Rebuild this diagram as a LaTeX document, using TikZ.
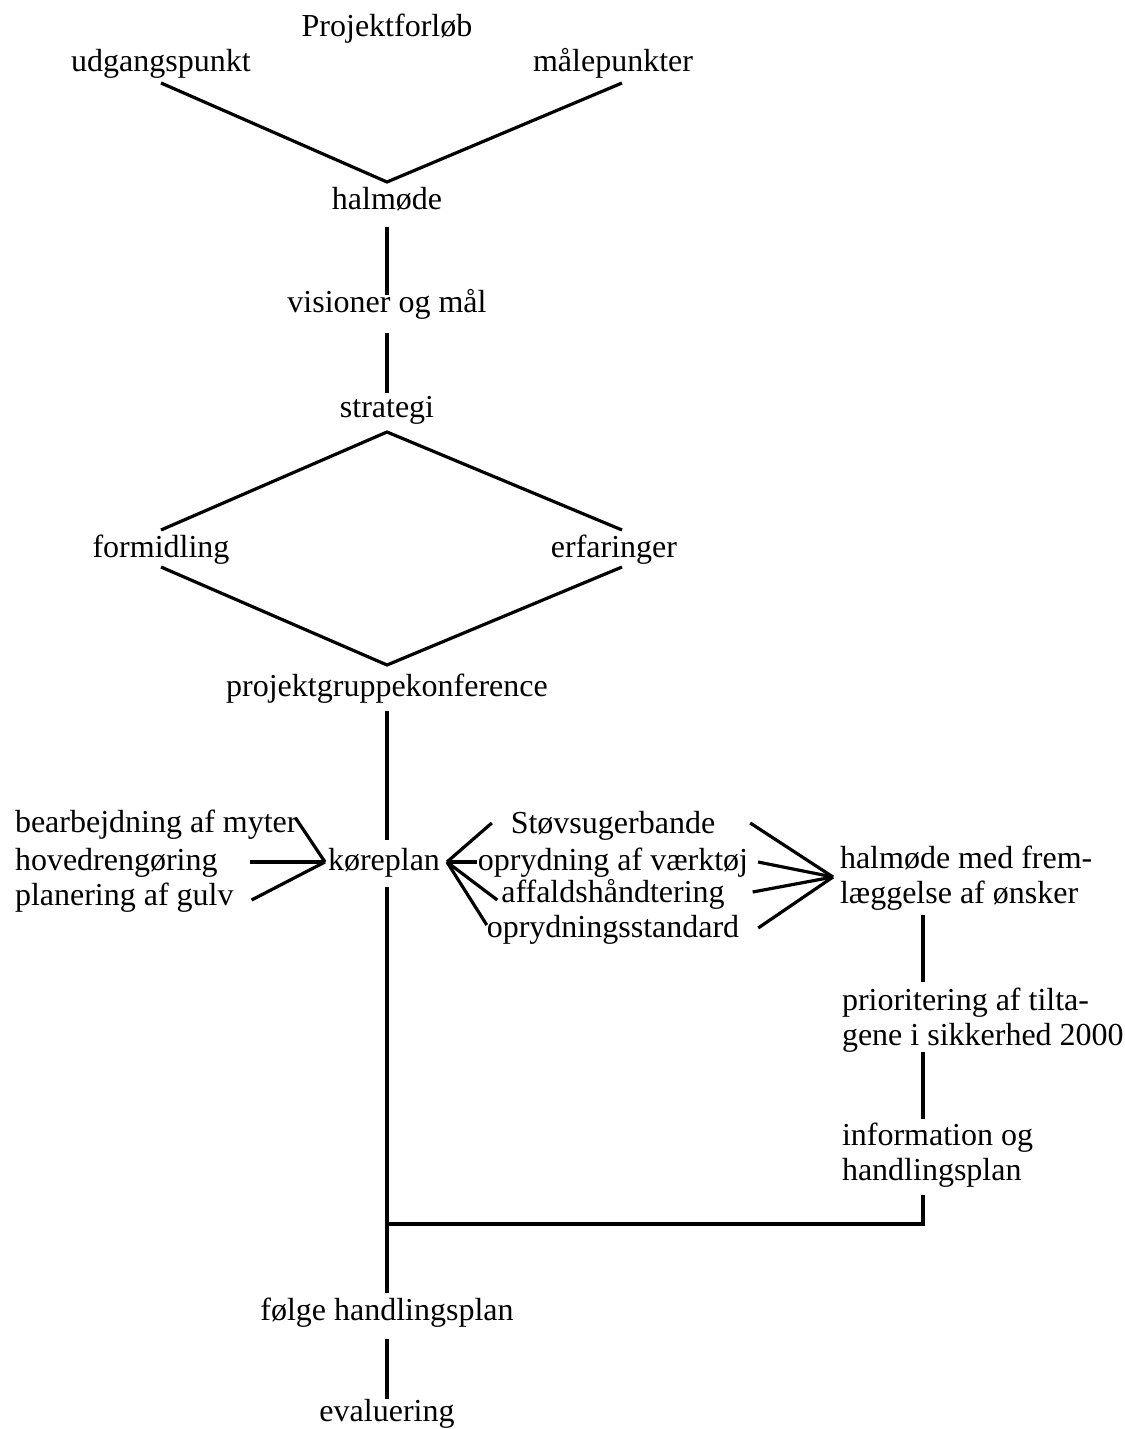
\documentclass[tikz,border=0pt]{standalone}
\usepackage{fontspec}
\setmainfont{Liberation Serif}
\usetikzlibrary{calc}
\tikzset{
  lbl/.style={inner sep=0pt, outer sep=0pt, font=\fontsize{12pt}{13.125pt}\selectfont},
  cb/.style={lbl, anchor=base},
  lb/.style={lbl, anchor=base west, align=left},
  conn/.style={draw=black, line width=1.2pt}
}
\begin{document}
\begin{tikzpicture}[x=0.375pt,y=-0.375pt]
\useasboundingbox (0,0) rectangle (1124,1429);
% nodes
\node[cb] (title) at (387,37) {Projektforløb};
\node[cb] (udg) at (161,72) {udgangspunkt};
\node[cb] (maal) at (613,72) {målepunkter};
\node[cb] (halm) at (387,210) {halmøde};
\node[cb] (vis) at (387,313) {visioner og mål};
\node[cb] (strat) at (387,417) {strategi};
\node[cb] (form) at (161,557) {formidling};
\node[cb] (erf) at (614,557) {erfaringer};
\node[cb] (pgk) at (387,696) {projektgruppekonference};
\node[lb] (bear) at (15,832) {bearbejdning af myter};
\node[lb] (hoved) at (15,870) {hovedrengøring};
\node[lb] (plan) at (15,905) {planering af gulv};
\node[lb] (kore) at (328,870) {køreplan};
\node[cb] (stov) at (613,833) {Støvsugerbande};
\node[cb] (vaerk) at (613,870) {oprydning af værktøj};
\node[cb] (affald) at (613,902) {affaldshåndtering};
\node[cb] (oprstd) at (613,937) {oprydningsstandard};
\node[lb] (halm2) at (840,903) {halmøde med frem-\\læggelse af ønsker};
\node[lb] (prior) at (842,1045) {prioritering af tilta-\\gene i sikkerhed 2000};
\node[lb] (info) at (842,1180) {information og\\handlingsplan};
\node[cb] (folge) at (387,1320) {følge handlingsplan};
\node[cb] (eval) at (387,1421) {evaluering};
\coordinate (join) at (387,1224);
% connectors
\draw[conn] ($(udg.base)+(0,11)$) -- ($(halm.base)+(0,-28)$) -- ($(maal.base)+(9,11)$);
\draw[conn] ($(halm.base)+(0,17)$) -- ($(vis.base)+(0,-18)$);
\draw[conn] ($(vis.base)+(0,20)$) -- ($(strat.base)+(0,-24)$);
\draw[conn] ($(form.base)+(0,-27)$) -- ($(strat.base)+(0,15)$) -- ($(erf.base)+(8,-27)$);
\draw[conn] ($(form.base)+(0,10)$) -- ($(pgk.base)+(0,-31)$) -- ($(erf.base)+(8,10)$);
\draw[conn] ($(pgk.base)+(0,15)$) -- ($(kore.base west)+(59,-30)$);
\draw[conn] ($(bear.base east)+(-2,-14)$) -- ($(kore.base west)+(-3,-8)$);
\draw[conn] ($(hoved.base east)+(32,-8)$) -- ($(kore.base west)+(-3,-8)$);
\draw[conn] ($(plan.base east)+(18,-5)$) -- ($(kore.base west)+(-3,-8)$);
\draw[conn] ($(kore.base east)+(7,-8)$) -- ($(stov.base west)+(-19,-10)$);
\draw[conn] ($(kore.base east)+(7,-8)$) -- ($(vaerk.base west)+(-1,-8)$);
\draw[conn] ($(kore.base east)+(7,-8)$) -- ($(affald.base west)+(-4,-2)$);
\draw[conn] ($(kore.base east)+(7,-8)$) -- ($(oprstd.base west)+(0,-12)$);
\draw[conn] ($(stov.base east)+(35,-10)$) -- ($(halm2.base west)+(-7,-26)$);
\draw[conn] ($(vaerk.base east)+(10,-8)$) -- ($(halm2.base west)+(-7,-26)$);
\draw[conn] ($(affald.base east)+(28,-10)$) -- ($(halm2.base west)+(-7,-26)$);
\draw[conn] ($(oprstd.base east)+(19,-9)$) -- ($(halm2.base west)+(-7,-26)$);
\draw[conn] ($(halm2.base west)+(83,12)$) -- ($(prior.base west)+(81,-63)$);
\draw[conn] ($(prior.base west)+(81,7)$) -- ($(info.base west)+(81,-61)$);
\draw[conn] ($(info.base west)+(81,15)$) |- (join);
\draw[conn] ($(kore.base west)+(59,17)$) -- ($(folge.base)+(0,-27)$);
\draw[conn] ($(folge.base)+(0,19)$) -- ($(eval.base)+(0,-22)$);
\end{tikzpicture}
\end{document}
